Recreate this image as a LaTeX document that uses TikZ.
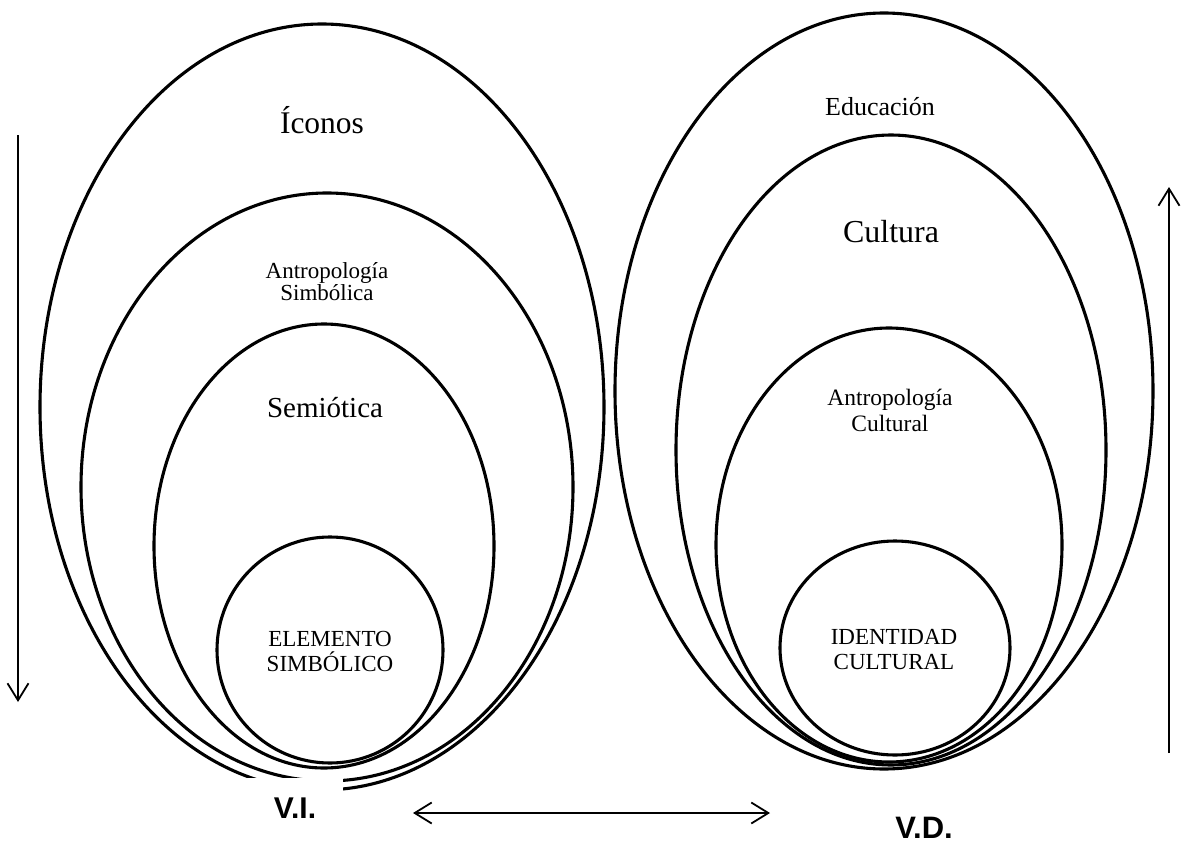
\documentclass[tikz,border=0pt]{standalone}
\usepackage{fontspec}
\setmainfont{Liberation Serif}
\newfontfamily\arialfont{Liberation Sans}
\usetikzlibrary{arrows.meta}
\begin{document}
\begin{tikzpicture}[x=1pt,y=-1pt,
  ring/.style={line width=3.1pt},
  lbl/.style={align=center,inner sep=0pt},
  barb/.tip={Straight Barb[length=17pt,width=21pt,line width=1.8pt]},
  axisarrow/.style={line width=1.8pt,-barb},
  bothway/.style={line width=1.8pt,barb-barb},
  varlbl/.style={font=\arialfont\bfseries\fontsize{30}{34}\selectfont,inner sep=0pt}]
\useasboundingbox (0,0) rectangle (1187,843);
% centres
\coordinate (cL1) at (322,407);
\coordinate (cL2) at (327,487);
\coordinate (cL3) at (324,546);
\coordinate (cL4) at (330,650);
\coordinate (cR1) at (884,391);
\coordinate (cR2) at (891,450);
\coordinate (cR3) at (889,545);
\coordinate (cR4) at (895,648);
% left nest
\draw[ring] (cL1) ellipse [x radius=282pt, y radius=383pt];
\draw[ring] (cL2) ellipse [x radius=246pt, y radius=294pt];
\draw[ring] (cL3) ellipse [x radius=170pt, y radius=222pt];
\draw[ring] (cL4) ellipse [x radius=113pt, y radius=113pt];
% right nest
\draw[ring] (cR1) ellipse [x radius=269pt, y radius=378pt];
\draw[ring] (cR2) ellipse [x radius=215pt, y radius=315pt];
\draw[ring] (cR3) ellipse [x radius=173pt, y radius=217pt];
\draw[ring] (cR4) ellipse [x radius=115pt, y radius=107pt];
% labels
\node[lbl,font=\fontsize{31.5}{34}\selectfont] (iconos) at (322,120) {Íconos};
\node[lbl,font=\fontsize{23}{22}\selectfont] (antsim) at (327,282) {Antropología\\Simbólica};
\node[lbl,font=\fontsize{29}{33}\selectfont] (semio) at (325,408) {Semiótica};
\node[lbl,font=\fontsize{23}{25}\selectfont] (elem) at (330,651) {ELEMENTO\\SIMBÓLICO};
\node[lbl,font=\fontsize{26}{30}\selectfont] (educ) at (880,107) {Educación};
\node[lbl,font=\fontsize{32}{36}\selectfont] (cult) at (891,232) {Cultura};
\node[lbl,font=\fontsize{23.5}{26}\selectfont] (antcul) at (890,410) {Antropología\\Cultural};
\node[lbl,font=\fontsize{23}{25}\selectfont] (ident) at (894,650) {IDENTIDAD\\CULTURAL};
% variable labels
\node[varlbl,fill=white,minimum width=96pt,minimum height=60pt] (vi) at (295,808) {V.I.};
\node[varlbl,font=\arialfont\bfseries\fontsize{31}{34}\selectfont] (vd) at (924,828) {V.D.};
% arrows
\coordinate (la1) at (18,135);
\coordinate (la2) at (18,702);
\coordinate (ra1) at (1169,753);
\coordinate (ra2) at (1169,187);
\coordinate (ha1) at (413,813);
\coordinate (ha2) at (770,813);
\draw[axisarrow] (la1) -- (la2);
\draw[axisarrow] (ra1) -- (ra2);
\draw[bothway] (ha1) -- (ha2);
\end{tikzpicture}
\end{document}
